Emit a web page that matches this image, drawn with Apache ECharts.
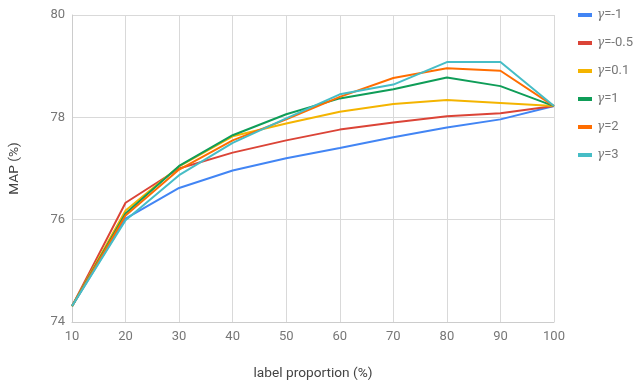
<!DOCTYPE html>
<html><head><meta charset="utf-8">
<script src="https://cdn.jsdelivr.net/npm/echarts@6/dist/echarts.min.js"></script>
<style>html,body{margin:0;padding:0;background:#fff}#c{width:640px;height:382px}</style>
</head><body><div id="c"></div>
<script>
const xValues = [10, 20, 30, 40, 50, 60, 70, 80, 90, 100];
const seriesNames = ['γ=-1', 'γ=-0.5', 'γ=0.1', 'γ=1', 'γ=2', 'γ=3'];
const colors = ['#4285F4', '#DB4437', '#F4B400', '#0F9D58', '#FF6D00', '#46BDC6'];
const gammaM1 = [74.31, 76.02, 76.62, 76.96, 77.20, 77.40, 77.61, 77.80, 77.96, 78.22];
const gammaM05 = [74.31, 76.33, 77.00, 77.31, 77.55, 77.76, 77.90, 78.02, 78.08, 78.22];
const gamma01 = [74.31, 76.18, 77.04, 77.63, 77.88, 78.11, 78.26, 78.34, 78.28, 78.22];
const gamma1 = [74.31, 76.12, 77.05, 77.65, 78.06, 78.37, 78.55, 78.78, 78.61, 78.22];
const gamma2 = [74.31, 76.08, 76.98, 77.55, 77.96, 78.40, 78.77, 78.96, 78.91, 78.22];
const gamma3 = [74.31, 75.99, 76.87, 77.50, 77.98, 78.45, 78.64, 79.08, 79.08, 78.22];
const allValues = [gammaM1, gammaM05, gamma01, gamma1, gamma2, gamma3];
const yTicks = [74, 76, 78, 80];

const chart = echarts.init(document.getElementById('c'));
chart.setOption({
  animation: false,
  color: colors,
  grid: { left: 72, right: 86, top: 15, bottom: 60, outerBoundsMode: 'none', containLabel: false },
  legend: {
    orient: 'vertical', left: 578, top: 8, itemGap: 14, padding: 0,
    itemWidth: 14, itemHeight: 4, icon: 'rect',
    data: seriesNames,
    formatter: function (n) { return '{g|γ}{t|' + n.slice(1) + '}'; },
    textStyle: {
      lineHeight: 14,
      rich: {
        g: { fontFamily: 'DejaVu Serif', fontStyle: 'italic', fontSize: 12, color: '#777', lineHeight: 14 },
        t: { fontFamily: 'Roboto', fontSize: 13, color: '#777', lineHeight: 14 }
      }
    }
  },
  xAxis: {
    type: 'value', min: 10, max: 100, interval: 10,
    name: 'label proportion (%)', nameLocation: 'middle', nameGap: 45,
    nameTextStyle: { fontFamily: 'Roboto', fontSize: 13.7, color: '#444' },
    axisLine: { show: true, lineStyle: { color: '#ccc' } },
    axisTick: { show: false },
    axisLabel: { fontFamily: 'Roboto', fontSize: 13, color: '#777', margin: 8 },
    splitLine: { show: true, lineStyle: { color: '#d9d9d9', width: 1 } }
  },
  yAxis: {
    type: 'value', min: yTicks[0], max: yTicks[yTicks.length - 1], interval: 2,
    name: 'MAP (%)', nameLocation: 'middle', nameGap: 50,
    nameTextStyle: { fontFamily: 'Roboto', fontSize: 13.7, color: '#444' },
    axisLine: { show: true, lineStyle: { color: '#ccc' } },
    axisTick: { show: false },
    axisLabel: { fontFamily: 'Roboto', fontSize: 13, color: '#777', margin: 7 },
    splitLine: { show: true, lineStyle: { color: '#d9d9d9', width: 1 } }
  },
  series: seriesNames.map(function (n, i) {
    return {
      name: n, type: 'line', symbol: 'none',
      lineStyle: { width: 2 },
      data: xValues.map(function (x, j) { return [x, allValues[i][j]]; })
    };
  })
});
</script></body></html>
